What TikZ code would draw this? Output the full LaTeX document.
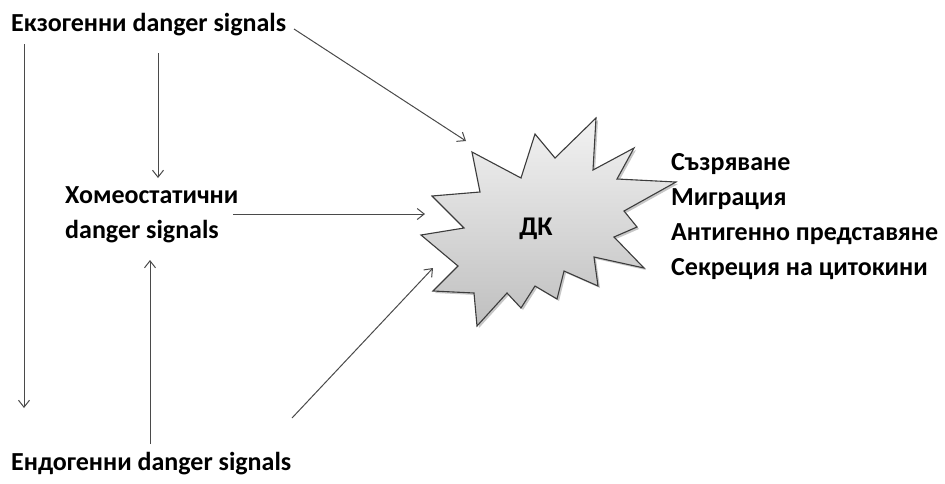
\documentclass[tikz,border=0pt]{standalone}
\usepackage{fontspec}
\setmainfont{Carlito}
\usetikzlibrary{arrows.meta,shadows}

\definecolor{linegray}{HTML}{4A4A4A}
\definecolor{starline}{HTML}{3C3C3C}

\tikzset{
  lbl/.style={inner sep=0pt, font=\fontsize{26}{35}\selectfont\bfseries, text=black},
  multilbl/.style={lbl, align=left, anchor=north west},
  sig/.style={draw=linegray, line width=1pt,
              -{Straight Barb[length=7pt,width=11pt,line width=1pt]}},
  burst/.style={draw=starline, line width=1.1pt, line join=miter,
                top color=black!5, bottom color=black!25,
                drop shadow={shadow xshift=2pt, shadow yshift=-2pt,
                             opacity=0.22, fill=black}}
}

\begin{document}
\begin{tikzpicture}[x=1pt, y=-1pt]
  \useasboundingbox (0,0) rectangle (945,483);

  % text labels
  \node[lbl, anchor=base west] (exo) at (11,31) {Екзогенни danger signals};
  \node[lbl, anchor=base west] (endo) at (11,470) {Ендогенни danger signals};
  \node[multilbl] (homeo) at (65,186) {Хомеостатични\\danger signals};

  % the dendritic cell as a spiky burst
  \path[burst] (432,196) -- (480,192) -- (472,152) -- (521,178) -- (535,134)
    -- (555,158) -- (596,118) -- (593,170) -- (634,148) -- (617,179)
    -- (676,182) -- (624,211) -- (637,227) -- (614,237) -- (644,268)
    -- (594,257) -- (598,286) -- (564,271) -- (557,299) -- (535,286)
    -- (521,308) -- (507,293) -- (477,326) -- (474,293) -- (433,291)
    -- (458,266) -- (421,235) -- (464,228) -- cycle;
  \node[lbl, anchor=base, font=\fontsize{27}{35}\selectfont\bfseries] (dk) at (536,235) {ДК};

  \node[multilbl] (effects) at (671,153)
    {Съзряване\\Миграция\\Антигенно представяне\\Секреция на цитокини};

  % connector end points
  \coordinate (exoR)    at (294,29);
  \coordinate (dkTop)   at (466,141);
  \coordinate (exoL)    at (24,44);
  \coordinate (endoTop) at (24,408);
  \coordinate (exoM)    at (158,53);
  \coordinate (homeoT)  at (158,178);
  \coordinate (homeoR)  at (233,214);
  \coordinate (dkLeft)  at (425,214);
  \coordinate (endoM)   at (150,444);
  \coordinate (homeoB)  at (150,260);
  \coordinate (endoR)   at (292,418);
  \coordinate (dkLow)   at (433,268);

  % signals
  \draw[sig] (exoR) -- (dkTop);
  \draw[sig] (exoL) -- (endoTop);
  \draw[sig] (exoM) -- (homeoT);
  \draw[sig] (homeoR) -- (dkLeft);
  \draw[sig] (endoM) -- (homeoB);
  \draw[sig] (endoR) -- (dkLow);
\end{tikzpicture}
\end{document}
